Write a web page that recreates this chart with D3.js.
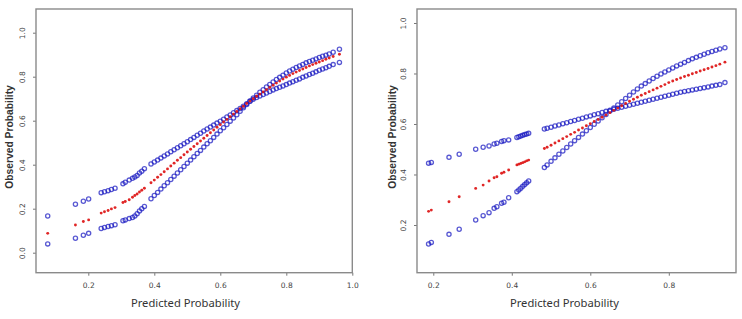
<!DOCTYPE html>
<html>
<head>
<meta charset="utf-8">
<script src="https://cdn.jsdelivr.net/npm/d3@7"></script>
<style>
  html, body { margin: 0; padding: 0; background: #fff; }
  svg { display: block; }
</style>
</head>
<body>
<svg id="chart" width="742" height="319"></svg>
<script>
// ---------------- DATA ----------------
// Left panel
const leftX = [0.077, 0.161, 0.185, 0.201, 0.239, 0.249, 0.260, 0.270, 0.281, 0.305, 0.312, 0.324, 0.334, 0.341, 0.348, 0.355, 0.362, 0.370,
  0.39, 0.40, 0.41, 0.42, 0.43, 0.44, 0.45, 0.46, 0.47, 0.48, 0.49, 0.50, 0.51, 0.52, 0.53, 0.54, 0.55, 0.56, 0.57, 0.58, 0.59, 0.60,
  0.61, 0.62, 0.63, 0.64, 0.65, 0.66, 0.67, 0.68, 0.69, 0.70, 0.71, 0.72, 0.73, 0.74, 0.75, 0.76, 0.77, 0.78, 0.79, 0.80,
  0.81, 0.82, 0.83, 0.84, 0.85, 0.86, 0.87, 0.88, 0.89, 0.90, 0.91, 0.92, 0.93, 0.942, 0.961];
const leftBandA = [.167, .220, .234, .244, .273, .277, .282, .287, .293, .313, .320, .330, .338, .344, .351, .362, .370, .382,
  .403, .412, .421, .430, .440, .449, .459, .468, .477, .486, .495, .504, .514, .524, .534, .543, .553, .562, .571, .580, .589, .598,
  .607, .617, .626, .636, .646, .656, .666, .677, .688, .697, .705, .712, .719, .726, .733, .740, .746, .752, .758, .764,
  .771, .777, .784, .790, .797, .803, .810, .816, .822, .829, .835, .841, .847, .855, .865];
const leftFit = [.088, .126, .142, .149, .180, .186, .192, .199, .205, .228, .233, .241, .252, .260, .267, .276, .284, .293,
  .318, .330, .343, .355, .368, .381, .394, .407, .420, .432, .445, .458, .470, .483, .495, .508, .520, .533, .545, .558, .570, .582,
  .594, .606, .618, .630, .642, .654, .666, .678, .689, .700, .711, .721, .731, .741, .751, .761, .771, .780, .789, .798,
  .806, .814, .821, .828, .835, .842, .849, .855, .861, .867, .873, .879, .885, .892, .902];
const leftBandB = [.040, .066, .079, .088, .110, .115, .119, .123, .127, .145, .149, .155, .160, .167, .177, .190, .200, .210,
  .245, .260, .274, .289, .304, .318, .333, .348, .362, .377, .392, .407, .421, .436, .451, .465, .480, .495, .509, .524, .539, .554,
  .568, .583, .598, .612, .627, .643, .659, .674, .689, .703, .716, .729, .741, .753, .765, .776, .787, .797, .807, .817,
  .826, .834, .842, .849, .856, .863, .869, .875, .881, .887, .893, .898, .903, .911, .925];

// Right panel
const rightX = [0.188, 0.195, 0.240, 0.266, 0.308, 0.327, 0.342, 0.355, 0.362, 0.374, 0.380, 0.392,
  0.413, 0.418, 0.423, 0.428, 0.433, 0.438, 0.443,
  0.483, 0.49, 0.50, 0.51, 0.52, 0.53, 0.54, 0.55, 0.56, 0.57, 0.58, 0.59, 0.60, 0.61, 0.62, 0.63, 0.64, 0.65, 0.66, 0.67, 0.68,
  0.69, 0.70, 0.71, 0.72, 0.73, 0.74, 0.75, 0.76, 0.77, 0.78, 0.79, 0.80, 0.81, 0.82, 0.83, 0.84, 0.85, 0.86, 0.87, 0.88,
  0.89, 0.90, 0.91, 0.92, 0.93, 0.943];
const rightBandA = [.445, .448, .468, .480, .500, .508, .513, .521, .524, .531, .534, .537,
  .547, .549, .552, .555, .558, .560, .563,
  .580, .583, .587, .592, .596, .601, .605, .610, .614, .619, .623, .628, .632, .637, .641, .646, .650, .654, .658, .662, .666,
  .670, .674, .678, .682, .686, .690, .694, .698, .702, .706, .710, .714, .718, .722, .726, .729, .732, .735, .738, .741,
  .744, .747, .750, .753, .756, .764];
const rightFit = [.254, .259, .292, .312, .345, .358, .374, .387, .391, .405, .409, .418,
  .438, .441, .444, .447, .450, .454, .457,
  .503, .508, .516, .525, .533, .542, .550, .559, .567, .576, .584, .593, .601, .610, .618, .627, .636, .645, .654, .663, .672,
  .681, .690, .698, .706, .714, .721, .728, .735, .742, .749, .756, .764, .770, .776, .782, .788, .793, .799, .804, .810,
  .815, .820, .826, .831, .837, .845];
const rightBandB = [.125, .131, .163, .183, .220, .237, .249, .266, .272, .286, .290, .308,
  .332, .339, .346, .353, .360, .367, .374,
  .428, .438, .452, .466, .480, .493, .507, .521, .534, .547, .560, .573, .586, .599, .612, .625, .638, .651, .663, .675, .688,
  .701, .714, .727, .739, .750, .760, .770, .780, .789, .798, .806, .814, .822, .830, .837, .844, .851, .858, .864, .870,
  .876, .882, .887, .892, .897, .902];

const leftXTicks = [0.2, 0.4, 0.6, 0.8, 1.0];
const leftYTicks = [0.0, 0.2, 0.4, 0.6, 0.8, 1.0];
const rightXTicks = [0.2, 0.4, 0.6, 0.8];
const rightYTicks = [0.2, 0.4, 0.6, 0.8, 1.0];
const xTitle = "Predicted Probability";
const yTitle = "Observed Probability";

// ---------------- DRAW ----------------
const svg = d3.select("#chart");
const BLUE = "#1818c0";
const RED = "#dd1414";

function panel(cfg) {
  const x = d3.scaleLinear().domain(cfg.xDomain).range([cfg.left, cfg.right]);
  const y = d3.scaleLinear().domain(cfg.yDomain).range([cfg.bottom, cfg.top]);
  const g = svg.append("g");

  const xa = g.append("g").attr("transform", `translate(0,${cfg.bottom})`)
    .call(d3.axisBottom(x).tickValues(cfg.xTicks).tickSize(3).tickPadding(7).tickFormat(d3.format(".1f")));
  const ya = g.append("g").attr("transform", `translate(${cfg.left},0)`)
    .call(d3.axisLeft(y).tickValues(cfg.yTicks).tickSize(3).tickPadding(0).tickFormat(d3.format(".1f")));
  [xa, ya].forEach(a => {
    a.select(".domain").remove();
    a.selectAll(".tick line").attr("stroke", "#777");
    a.selectAll(".tick text").attr("fill", "#444").attr("font-size", "7.5px")
      .attr("font-family", "'DejaVu Sans', sans-serif");
  });
  ya.selectAll(".tick text")
    .attr("text-anchor", "middle").attr("x", null).attr("dy", "0em")
    .attr("transform", "translate(-11,0) rotate(-90)");

  g.append("rect").attr("x", cfg.left).attr("y", cfg.top)
    .attr("width", cfg.right - cfg.left).attr("height", cfg.bottom - cfg.top)
    .attr("fill", "none").attr("stroke", "#8a8a8a").attr("stroke-width", 1.4);

  const mk = ys => cfg.xs.map((v, i) => [v, ys[i]]);
  [cfg.a, cfg.b].forEach(ys => {
    g.append("g").selectAll("circle").data(mk(ys)).join("circle")
      .attr("cx", d => x(d[0])).attr("cy", d => y(d[1])).attr("r", 2.1)
      .attr("fill", "none").attr("stroke", BLUE).attr("stroke-opacity", 0.72).attr("stroke-width", 1.3);
  });
  g.append("g").selectAll("circle").data(mk(cfg.fit)).join("circle")
    .attr("cx", d => x(d[0])).attr("cy", d => y(d[1])).attr("r", 1.45)
    .attr("fill", RED).attr("fill-opacity", 0.92);

  g.append("text").attr("x", cfg.xTitleX).attr("y", 304).attr("text-anchor", "middle")
    .attr("dominant-baseline", "middle")
    .attr("font-family", "'Noto Sans', 'Open Sans', sans-serif").attr("font-size", "11.2px").attr("fill", "#333")
    .text(xTitle);
  g.append("text").attr("transform", `translate(${cfg.yTitleX},137) rotate(-90)`)
    .attr("text-anchor", "middle").attr("dominant-baseline", "middle")
    .attr("font-family", "'Liberation Sans', Arial, sans-serif").attr("font-size", "10.3px")
    .attr("font-weight", "bold").attr("fill", "#333")
    .text(yTitle);
}

panel({
  left: 36, right: 352.3, top: 9, bottom: 272.7,
  xDomain: [0.0415, 1.0], yDomain: [-0.0909, 1.1077],
  xTicks: leftXTicks, yTicks: leftYTicks,
  xs: leftX, a: leftBandA, fit: leftFit, b: leftBandB,
  xTitleX: 185.5, yTitleX: 10
});
panel({
  left: 417, right: 736, top: 9, bottom: 272.7,
  xDomain: [0.1585, 0.9712], yDomain: [0.0111, 1.0554],
  xTicks: rightXTicks, yTicks: rightYTicks,
  xs: rightX, a: rightBandA, fit: rightFit, b: rightBandB,
  xTitleX: 564.5, yTitleX: 393
});
</script>
</body>
</html>
